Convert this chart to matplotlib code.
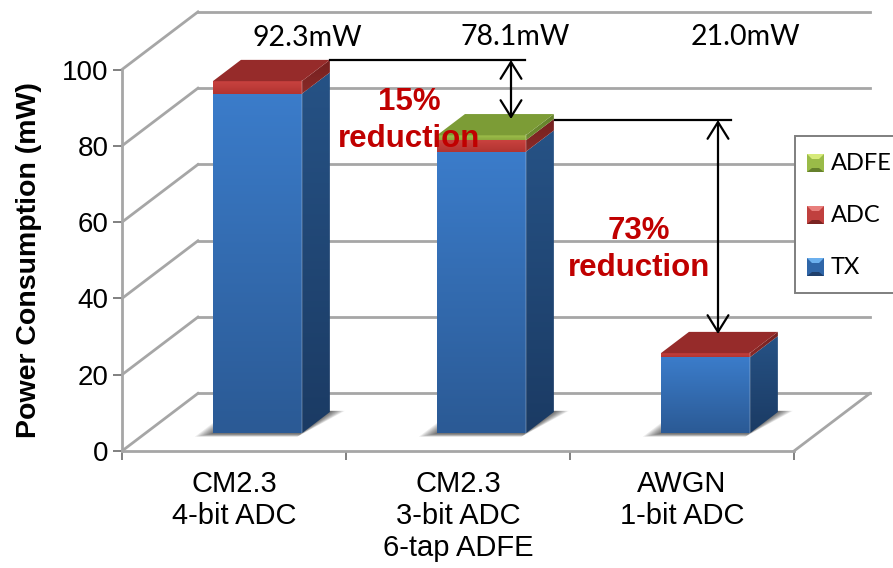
import numpy as np
import matplotlib
matplotlib.use('Agg')
import matplotlib.pyplot as plt
from matplotlib.patches import Polygon, Rectangle
from matplotlib.colors import LinearSegmentedColormap

# chart values
categories = ['CM2.3\n4-bit ADC', 'CM2.3\n3-bit ADC\n6-tap ADFE', 'AWGN\n1-bit ADC']
tx = [89.0, 73.8, 19.9]
adc = [3.3, 3.0, 1.1]
adfe = [0.0, 1.3, 0.0]
y_ticks = [0, 20, 40, 60, 80, 100]
total_labels = ['92.3mW', '78.1mW', '21.0mW']
legend_names = ['ADFE', 'ADC', 'TX']

W, H = 893, 568
# depth of the 3d box in data units
DX = 0.339
DY = 15.1
BAR_W = 0.397
Z0, Z1 = 0.307, 0.677

GRID = '#a6a6a6'
RED_TXT = '#c00000'

fig = plt.figure(figsize=(W / 100, H / 100), dpi=100)
ax = fig.add_axes([122 / W, 1 - 451 / H, 672 / W, 381.5 / H])
ax.set_xlim(0, 3)
ax.set_ylim(0, 100)
ax.patch.set_visible(False)


def proj(x, y, z):
    return (x + z * DX, y + z * DY)


def grad_poly(pts, c_top, c_bot, zorder):
    # polygon filled with a vertical gradient
    pts = np.array(pts)
    cmap = LinearSegmentedColormap.from_list('g', [c_bot, c_top])
    clip = Polygon(pts, closed=True, transform=ax.transData)
    im = ax.imshow(np.linspace(0, 1, 64).reshape(-1, 1), cmap=cmap, aspect='auto', origin='lower',
                   extent=(pts[:, 0].min(), pts[:, 0].max(), pts[:, 1].min(), pts[:, 1].max()),
                   zorder=zorder, interpolation='bilinear')
    im.set_clip_box(fig.bbox)
    im.set_clip_path(clip)


def flat_poly(pts, color, zorder, alpha=1.0):
    ax.add_patch(Polygon(pts, closed=True, facecolor=color, edgecolor='none', alpha=alpha,
                         clip_on=False, zorder=zorder))


def draw_segment(x0, y0, y1, front, side, zorder):
    x1 = x0 + BAR_W
    grad_poly([proj(x0, y0, Z0), proj(x1, y0, Z0), proj(x1, y1, Z0), proj(x0, y1, Z0)],
              front[0], front[1], zorder)
    grad_poly([proj(x1, y0, Z0), proj(x1, y0, Z1), proj(x1, y1, Z1), proj(x1, y1, Z0)],
              side[0], side[1], zorder)


# back wall, left wall and floor grid
for v in y_ticks:
    ax.plot([0, DX], [v, v + DY], color=GRID, lw=2, clip_on=False, zorder=1)
    ax.plot([DX, 3 + DX], [v + DY, v + DY], color=GRID, lw=2, clip_on=False, zorder=1)
ax.plot([3, 3 + DX], [0, DY], color=GRID, lw=2, clip_on=False, zorder=1)

ax.spines['top'].set_visible(False)
ax.spines['right'].set_visible(False)
ax.spines['left'].set_color(GRID)
ax.spines['bottom'].set_color(GRID)
ax.spines['left'].set_linewidth(2)
ax.spines['bottom'].set_linewidth(2)

ax.set_yticks(y_ticks)
ax.set_xticks([0, 1, 2, 3])
ax.set_xticklabels([])
ax.set_xticks([0.5, 1.5, 2.5], minor=True)
ax.set_xticklabels(categories, minor=True, fontsize=21, family='Liberation Sans', linespacing=1.18)
ax.tick_params(axis='x', which='minor', length=0, pad=14)
ax.tick_params(axis='both', which='major', length=6.5, width=1.4, color='#808080')
ax.tick_params(axis='y', labelsize=20, pad=3)
for t in ax.get_yticklabels():
    t.set_family('Liberation Sans')
ax.set_ylabel('Power Consumption (mW)', fontsize=20.5, fontweight='bold', family='Liberation Sans', labelpad=5)
ax.yaxis.set_label_coords(-0.119, 0.5)

# bars
for i in range(len(categories)):
    x0 = i + 0.5 - BAR_W / 2
    x1 = x0 + BAR_W
    # soft shadow on the floor
    for k in range(9):
        e = 0.06 - k * 0.007
        fz = Z0 - 0.06 + k * 0.006
        flat_poly([proj(x0 - e, 0, fz), proj(x1, 0, fz),
                   proj(x1 + e, 0, Z1 + 0.02), proj(x0 - e, 0, Z1 + 0.02)], '#000000', 2, alpha=0.08)

    base = 3 + i
    draw_segment(x0, 0, tx[i], ('#3b7cca', '#2b5a95'), ('#265285', '#1b3b64'), base)
    top = tx[i]
    draw_segment(x0, top, top + adc[i], ('#c9423f', '#b23431'), ('#74201f', '#8a2a28'), base)
    top_color = '#962b2a'
    top += adc[i]
    if adfe[i] > 0:
        draw_segment(x0, top, top + adfe[i], ('#9fc04c', '#8aa93d'), ('#63802b', '#6f8e31'), base)
        top += adfe[i]
        top_color = '#7c9c36'
    flat_poly([proj(x0, top, Z0), proj(x1, top, Z0), proj(x1, top, Z1), proj(x0, top, Z1)], top_color, base + 0.5)
    # light edge where front and side faces meet
    xs, ys = zip(proj(x1, 0, Z0), proj(x1, top, Z0))
    ax.plot(xs, ys, color='#ffffff', alpha=0.18, lw=1.2, clip_on=False, zorder=base + 0.6)

ax.set_xlim(0, 3)
ax.set_ylim(0, 100)

# overlay in pixel coordinates for annotations and the legend
ov = fig.add_axes([0, 0, 1, 1])
ov.set_xlim(0, W)
ov.set_ylim(H, 0)
ov.axis('off')
ov.patch.set_visible(False)

for label, cx, cy in zip(total_labels, [307, 515, 745], [38, 37, 37]):
    ov.text(cx, cy, label, fontsize=20.5, family='Lato', ha='center', va='center', color='black')

ov.plot([330, 525], [60, 60], color='black', lw=1.6)
ov.plot([555, 731], [120, 120], color='black', lw=1.6)
arrow_style = dict(arrowstyle='<->,head_length=1.2,head_width=0.75', color='black', lw=1.6, shrinkA=0, shrinkB=0)
ov.annotate('', xy=(511, 60), xytext=(511, 119), arrowprops=arrow_style)
ov.annotate('', xy=(718, 120), xytext=(718, 334), arrowprops=arrow_style)

for txt, cx, cy in [('15%', 409, 102), ('reduction', 409, 139), ('73%', 639, 231), ('reduction', 639, 268)]:
    ov.text(cx, cy, txt, fontsize=22.5, fontweight='bold', family='Liberation Sans', color=RED_TXT,
            ha='center', va='center')

# legend box, right side runs off the figure
ov.add_patch(Rectangle((795, 136), 110, 157, facecolor='white', edgecolor='#7f7f7f', lw=1.4, zorder=5))
swatches = [('#9abb48', '#d6ea7a', '#65802c'), ('#c0403e', '#e87f7c', '#7a2321'), ('#2f66a8', '#6cb0ee', '#1f3f6b')]
for name, sw, sy in zip(legend_names, swatches, [154, 206, 258]):
    ov.add_patch(Rectangle((807, sy), 17, 18, facecolor=sw[0], edgecolor='none', zorder=6))
    ov.add_patch(Polygon([(807, sy), (824, sy), (819, sy + 5), (812, sy + 5)], facecolor=sw[1], edgecolor='none', zorder=7))
    ov.add_patch(Polygon([(807, sy + 18), (824, sy + 18), (819, sy + 14), (812, sy + 14)], facecolor=sw[2], edgecolor='none', zorder=7))
    ov.text(831, sy + 9, name, fontsize=17, family='Lato', ha='left', va='center', color='black', zorder=7)

fig.savefig('out.png', dpi=100)
